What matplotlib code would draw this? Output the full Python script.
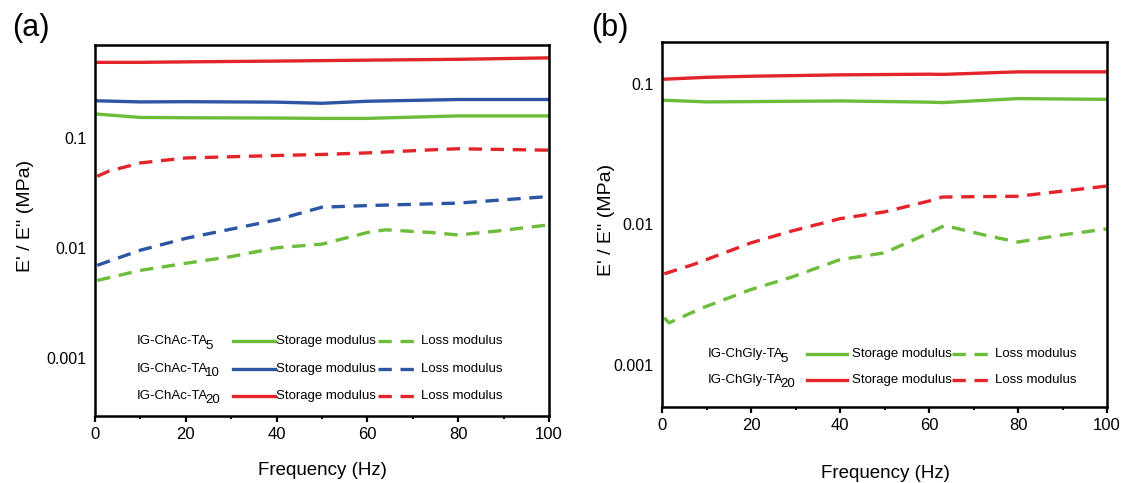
import matplotlib
matplotlib.use("Agg")
import matplotlib.pyplot as plt
from matplotlib.lines import Line2D
from matplotlib.ticker import FixedLocator, MultipleLocator

plt.rcParams['font.family'] = ['Liberation Sans', 'DejaVu Sans']
plt.rcParams['mathtext.default'] = 'regular'

GREEN = '#6cbd3a'
BLUE = '#2c55a3'
RED = '#e3242b'

# ---------------- Panel (a) data ----------------
a_freq_storage = [0.5, 10, 20, 40, 50, 60, 80, 100]
a_ta5_storage = [0.165, 0.154, 0.153, 0.152, 0.151, 0.151, 0.159, 0.159]
a_ta10_storage = [0.218, 0.213, 0.214, 0.212, 0.207, 0.216, 0.224, 0.224]
a_ta20_storage = [0.487, 0.487, 0.492, 0.500, 0.505, 0.510, 0.519, 0.535]

a_freq_loss_20 = [0.5, 3, 10, 20, 40, 50, 60, 74, 80, 100]
a_ta20_loss = [0.045, 0.050, 0.0595, 0.066, 0.0695, 0.071, 0.0734, 0.0782, 0.080, 0.0777]

a_freq_loss_10 = [0.5, 10, 20, 40, 50, 60, 80, 100]
a_ta10_loss = [0.0070, 0.0096, 0.0123, 0.0181, 0.0236, 0.0244, 0.0257, 0.0295]

a_freq_loss_5 = [0.5, 10, 20, 30, 40, 50, 60, 64, 74, 80, 89, 100]
a_ta5_loss = [0.0051, 0.0063, 0.0073, 0.0084, 0.0101, 0.0109, 0.0139, 0.0147,
              0.0139, 0.0132, 0.0144, 0.0163]

# ---------------- Panel (b) data ----------------
b_freq_storage = [0.5, 10, 20, 40, 60, 63, 80, 100]
b_ta5_storage = [0.0769, 0.0748, 0.0752, 0.0760, 0.0745, 0.0740, 0.0790, 0.0780]
b_ta20_storage = [0.1086, 0.1120, 0.1140, 0.1166, 0.1179, 0.1175, 0.1225, 0.1225]

b_freq_loss_20 = [0.5, 7, 20, 29, 40, 50, 60, 63, 80, 100]
b_ta20_loss = [0.00445, 0.00518, 0.0074, 0.00896, 0.0110, 0.0123, 0.0147, 0.0157,
               0.0159, 0.0188]

b_freq_loss_5 = [0.5, 1.6, 9, 20, 29, 40, 50, 60, 63.5, 73.5, 80, 89.6, 100]
b_ta5_loss = [0.00216, 0.00199, 0.00254, 0.00344, 0.0042, 0.00562, 0.00628, 0.0087,
              0.00984, 0.00826, 0.0075, 0.0084, 0.0093]

a_labels = [('IG-ChAc-TA', '5'), ('IG-ChAc-TA', '10'), ('IG-ChAc-TA', '20')]
b_labels = [('IG-ChGly-TA', '5'), ('IG-ChGly-TA', '20')]
y_tick_values = [0.001, 0.01, 0.1]
y_tick_labels = ['0.001', '0.01', '0.1']

fig = plt.figure(figsize=(11.22, 4.83), dpi=100)
axa = fig.add_axes([95 / 1122, 1 - 416 / 483, 454 / 1122, 371 / 483])
axb = fig.add_axes([662 / 1122, 1 - 407 / 483, 445 / 1122, 365 / 483])

LW = 2.4
DASH = (4.0, 2.6)
LEG_FS = 9.5


def style_axes(ax, ylim, xlab_pos, ylab_pos):
    ax.set_yscale('log')
    ax.set_xlim(0, 100)
    ax.set_ylim(*ylim)
    ax.yaxis.set_major_locator(FixedLocator(y_tick_values))
    ax.set_yticklabels(y_tick_labels)
    ax.yaxis.set_minor_locator(FixedLocator([]))
    ax.xaxis.set_major_locator(MultipleLocator(20))
    ax.xaxis.set_minor_locator(MultipleLocator(10))
    ax.tick_params(axis='y', which='both', length=0, pad=6, labelsize=11.5)
    ax.tick_params(axis='x', which='major', direction='out', length=4, width=1.6,
                   labelsize=12, pad=4)
    ax.tick_params(axis='x', which='minor', direction='out', length=2.5, width=1.4)
    for s in ax.spines.values():
        s.set_linewidth(1.8)
        s.set_color('black')
    ax.set_xlabel('Frequency (Hz)', fontsize=13.5, va='center')
    ax.set_ylabel("E' / E'' (MPa)", fontsize=14)
    ax.xaxis.set_label_coords(*xlab_pos)
    ax.yaxis.set_label_coords(*ylab_pos)


def draw_legend(ax, labels, colors, ys, xs):
    x_lab, x_s0, x_s1, x_st, x_d0, x_d1, x_lo = xs
    for (lab, sub), col, y in zip(labels, colors, ys):
        t = ax.text(x_lab, y, lab, transform=ax.transAxes, fontsize=LEG_FS,
                    va='center', ha='left')
        ax.annotate(sub, xy=(1, 0), xycoords=t, xytext=(-2.2, -3.2),
                    textcoords='offset points', fontsize=9.5, va='bottom', ha='left')
        ax.add_line(Line2D([x_s0, x_s1], [y, y], transform=ax.transAxes,
                           color=col, lw=LW))
        ax.text(x_st, y, 'Storage modulus', transform=ax.transAxes, fontsize=LEG_FS,
                va='center', ha='left')
        ax.add_line(Line2D([x_d0, x_d1], [y, y], transform=ax.transAxes,
                           color=col, lw=LW, dashes=DASH))
        ax.text(x_lo, y, 'Loss modulus', transform=ax.transAxes, fontsize=LEG_FS,
                va='center', ha='left')


# ---- Panel (a) ----
axa.plot(a_freq_storage, a_ta5_storage, color=GREEN, lw=LW)
axa.plot(a_freq_storage, a_ta10_storage, color=BLUE, lw=LW)
axa.plot(a_freq_storage, a_ta20_storage, color=RED, lw=LW)
axa.plot(a_freq_loss_5, a_ta5_loss, color=GREEN, lw=LW, dashes=DASH)
axa.plot(a_freq_loss_10, a_ta10_loss, color=BLUE, lw=LW, dashes=DASH)
axa.plot(a_freq_loss_20, a_ta20_loss, color=RED, lw=LW, dashes=DASH)
style_axes(axa, (0.0003, 0.7), (0.502, -0.146), (-0.135, 0.54))
draw_legend(axa, a_labels, [GREEN, BLUE, RED], [0.201, 0.127, 0.055],
            (0.092, 0.304, 0.396, 0.399, 0.623, 0.718, 0.718))

# ---- Panel (b) ----
axb.plot(b_freq_storage, b_ta5_storage, color=GREEN, lw=LW)
axb.plot(b_freq_storage, b_ta20_storage, color=RED, lw=LW)
axb.plot(b_freq_loss_5, b_ta5_loss, color=GREEN, lw=LW, dashes=DASH)
axb.plot(b_freq_loss_20, b_ta20_loss, color=RED, lw=LW, dashes=DASH)
style_axes(axb, (0.0005, 0.2), (0.501, -0.181), (-0.106, 0.512))
draw_legend(axb, b_labels, [GREEN, RED], [0.145, 0.074],
            (0.103, 0.326, 0.416, 0.427, 0.652, 0.744, 0.748))

fig.text(31 / 1122, 1 - 28 / 483, '(a)', fontsize=22, ha='center', va='center')
fig.text(610 / 1122, 1 - 28 / 483, '(b)', fontsize=22, ha='center', va='center')

fig.savefig('out.png', dpi=100)
